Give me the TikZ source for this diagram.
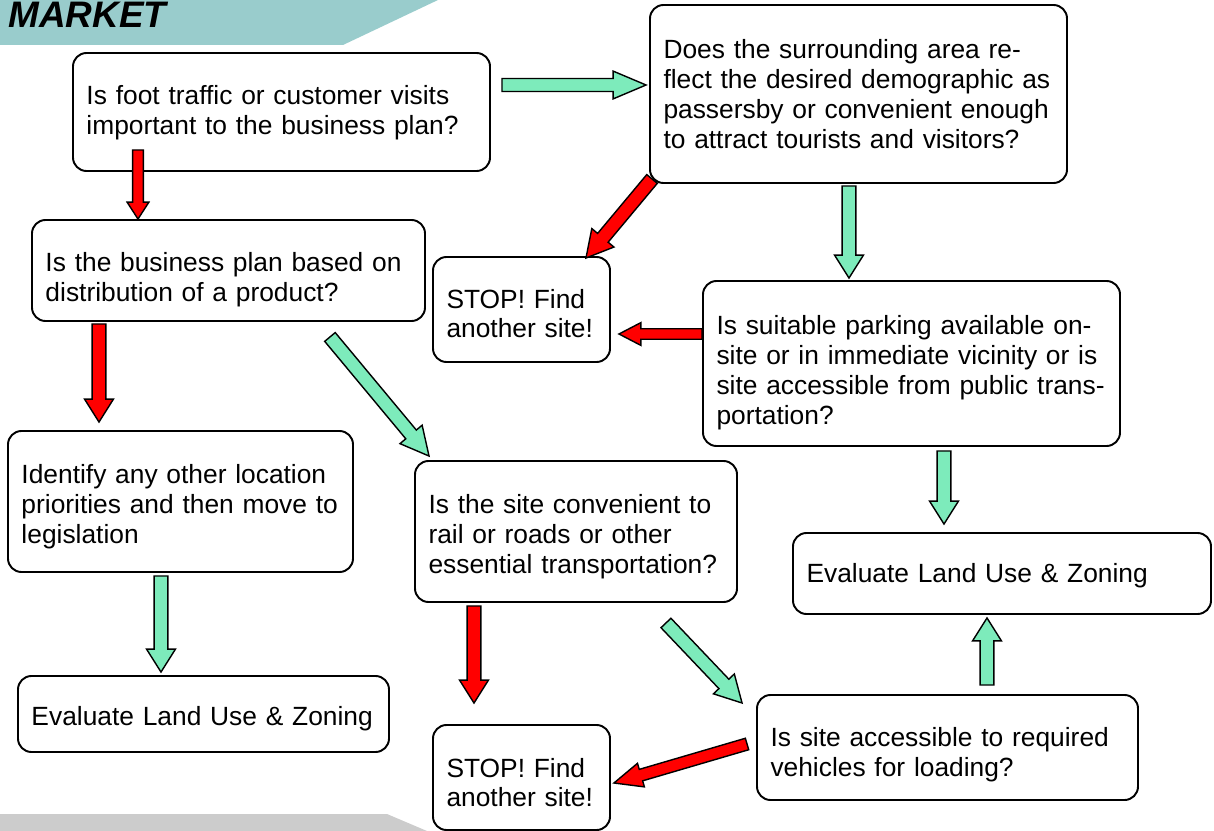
\documentclass[tikz,border=0pt]{standalone}
\usepackage{fontspec}
\setmainfont{Liberation Sans}
\usetikzlibrary{calc}

\definecolor{teal}{HTML}{99CCCC}
\definecolor{bargray}{HTML}{CCCCCC}
\definecolor{yes}{HTML}{7DEBBB}
\definecolor{no}{HTML}{FF0000}

\newlength{\pxunit}
\setlength{\pxunit}{0.02cm}

% block arrow: colour, tail, tip, half shaft, half head, head length
\newcommand{\blockarrowx}[6]{%
  \coordinate (ba-t) at (#2);
  \coordinate (ba-p) at (#3);
  \coordinate (ba-b) at ($(ba-p)!#6!(ba-t)$);
  \filldraw[fill=#1, draw=black, line width=0.8pt, line join=miter]
    ($(ba-t)!#4!90:(ba-p)$) -- ($(ba-b)!#4!-90:(ba-t)$) -- ($(ba-b)!#5!-90:(ba-t)$)
    -- (ba-p) -- ($(ba-b)!#5!90:(ba-t)$) -- ($(ba-b)!#4!90:(ba-t)$)
    -- ($(ba-t)!#4!-90:(ba-p)$) -- cycle;
}
\newcommand{\blockarrow}[4][{3.9pt}{8.2pt}{13pt}]{\blockarrowx{#2}{#3}{#4}#1}

\begin{document}
\begin{tikzpicture}[x=0.02cm, y=-0.02cm,
    box/.style={draw, line width=1.1pt, rounded corners=0.27cm, align=left,
      inner xsep=0.27cm, inner ysep=0pt, font=\fontsize{15}{17}\selectfont},
    size/.style 2 args={minimum width=#1*0.02cm, minimum height=#2*0.02cm,
      text width=#1*0.02cm-0.54cm},
    textdrop/.style={execute at begin node={\rule{0pt}{\dimexpr11pt+#1\pxunit*2\relax}}}]
    \useasboundingbox (0,0) rectangle (1214,831);

    % banner and footer bars
    \fill[teal] (0,0) -- (438,0) -- (343,45) -- (0,45) -- cycle;
    \node[anchor=base west, inner sep=0pt, font=\fontsize{21}{25}\selectfont\bfseries\itshape] (title) at (8,28) {MARKET};
    \fill[bargray] (0,814) -- (387,814) -- (427,831) -- (0,831) -- cycle;

    % questions
    \node[box, size={417}{118}, textdrop=1] (foot) at (281.5,112)
        {Is foot traffic or customer visits\\important to the business plan?};
    \node[box, size={417}{178}] (demog) at (858.5,94)
        {Does the surrounding area re-\\flect the desired demographic as\\passersby or convenient enough\\to attract tourists and visitors?};
    \node[box, size={393}{101}, textdrop=9] (product) at (228.5,270.5)
        {Is the business plan based on\\distribution of a product?};
    \node[box, size={177}{105}, textdrop=4] (stopa) at (521.5,309.5)
        {STOP! Find\\another site!};
    \node[box, size={417}{165}, textdrop=9] (parking) at (911.5,363.5)
        {Is suitable parking available on-\\site or in immediate vicinity or is\\site accessible from public trans-\\portation?};
    \node[box, size={345}{141}, textdrop=5] (other) at (180.5,501.5)
        {Identify any other location\\priorities and then move to\\legislation};
    \node[box, size={322}{141}, textdrop=5] (transport) at (576,531.5)
        {Is the site convenient to\\rail or roads or other\\essential transportation?};
    \node[box, size={418}{81}, textdrop=2] (zoninga) at (1002,573.5)
        {Evaluate Land Use \& Zoning};
    \node[box, size={371}{76}, textdrop=5] (zoningb) at (203.5,714)
        {Evaluate Land Use \& Zoning};
    \node[box, size={177}{105}, textdrop=5] (stopb) at (521.5,777.5)
        {STOP! Find\\another site!};
    \node[box, size={381}{105}, textdrop=7] (loading) at (947.5,747.5)
        {Is site accessible to required\\vehicles for loading?};

    % yes / no arrows
    \blockarrow[{3.7pt}{7.9pt}{18.7pt}]{yes}{$(foot.east)+(11,-27)$}{$(demog.west)+(-3,-9)$}
    \blockarrow[{3.1pt}{6.2pt}{9.6pt}]{no}{$(foot.south)+(-143.5,-22)$}{ba-t |- product.north}
    \blockarrow[{3.9pt}{8.2pt}{15pt}]{no}{$(demog.south west)+(3,-5)$}{$(stopa.north east)+(-25,2)$}
    \blockarrow{yes}{$(demog.south)+(-9.5,2)$}{$(ba-t |- parking.north)+(0,-2)$}
    \blockarrow[{3pt}{6.5pt}{12.5pt}]{no}{$(parking.west)+(0,-29.5)$}{$(ba-t -| stopa.east)+(8,0)$}
    \blockarrow{no}{$(product.south)+(-129.5,2)$}{$(ba-t |- other.north)+(0,-8)$}
    \blockarrow[{3.9pt}{8.2pt}{16pt}]{yes}{$(product.south east)+(-96,15)$}{$(transport.north west)+(15,-4)$}
    \blockarrow{yes}{$(parking.south)+(32.5,4)$}{$(ba-t |- zoninga.north)+(0,-8)$}
    \blockarrow{yes}{$(other.south)+(-19.5,3)$}{$(ba-t |- zoningb.north)+(0,-3)$}
    \blockarrow{no}{$(transport.south)+(-102,3)$}{$(ba-t |- stopb.north)+(0,-21)$}
    \blockarrow[{3.9pt}{8.2pt}{15pt}]{yes}{$(transport.south east)+(-72,20)$}{$(loading.west)+(-14,-44.5)$}
    \blockarrow{yes}{$(loading.north)+(39.5,-9)$}{$(ba-t |- zoninga.south)+(0,3)$}
    \blockarrow[{3.4pt}{7pt}{16pt}]{no}{$(loading.west)+(-9,-3.5)$}{$(stopb.east)+(3,5.5)$}
\end{tikzpicture}
\end{document}
